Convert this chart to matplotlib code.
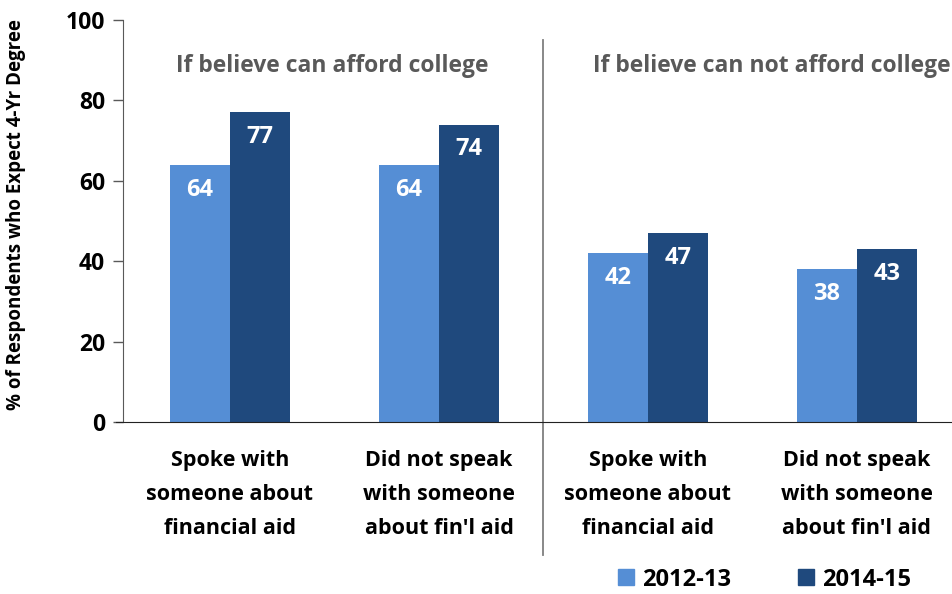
import matplotlib.pyplot as plt
from matplotlib.lines import Line2D
import numpy as np

plt.rcParams['font.family'] = ['Open Sans', 'DejaVu Sans']
plt.rcParams['font.weight'] = 'bold'

categories = ['Spoke with\nsomeone about\nfinancial aid',
              'Did not speak\nwith someone\nabout fin\'l aid',
              'Spoke with\nsomeone about\nfinancial aid',
              'Did not speak\nwith someone\nabout fin\'l aid']
years = ['2012-13', '2014-15']
vals_2012 = [64, 64, 42, 38]
vals_2014 = [77, 74, 47, 43]
panel_titles = ['If believe can afford college', 'If believe can not afford college']

light = '#558ED5'
dark = '#1F497D'

fig = plt.figure(figsize=(9.52, 5.94), dpi=100)
ax = fig.add_axes([0.1292, 0.2896, 0.8708, 0.6767])

x = np.arange(len(categories))
w = 0.287
b1 = ax.bar(x - w / 2, vals_2012, w, color=light, label=years[0])
b2 = ax.bar(x + w / 2, vals_2014, w, color=dark, label=years[1])

for bars, vals in ((b1, vals_2012), (b2, vals_2014)):
    for rect, v in zip(bars, vals):
        ax.text(rect.get_x() + rect.get_width() / 2, v - 6.2, str(v),
                ha='center', va='center', color='white',
                fontsize=17, fontweight='bold')

ax.set_xlim(-0.512, 3.455)
ax.set_ylim(0, 100)
ax.set_yticks([0, 20, 40, 60, 80, 100])
ax.tick_params(axis='y', labelsize=16.5, length=7, width=1, color='#595959', pad=6)
ax.set_xticks(x)
ax.set_xticklabels(categories, fontsize=15.5, linespacing=1.82)
ax.tick_params(axis='x', length=0, pad=20)

ax.spines['top'].set_visible(False)
ax.spines['right'].set_visible(False)
ax.spines['left'].set_color('#595959')
ax.spines['bottom'].set_color('#222222')
ax.spines['bottom'].set_bounds(-0.545, 3.455)

ax.set_ylabel('% of Respondents who Expect 4-Yr Degree', fontsize=13.5,
              fontweight='bold')
ax.yaxis.set_label_coords(-0.117, 0.515)

# panel divider
ax.add_line(Line2D([1.5, 1.5], [95, -33], color='#7f7f7f', lw=1.3, clip_on=False))

ax.text(0.49, 88.5, panel_titles[0], ha='center', va='center',
        color='#595959', fontsize=16.5, fontweight='bold')
ax.text(2.595, 88.5, panel_titles[1], ha='center', va='center',
        color='#595959', fontsize=16.5, fontweight='bold', clip_on=False)

handles = [Line2D([], [], marker='s', ls='', color=light, markersize=12),
           Line2D([], [], marker='s', ls='', color=dark, markersize=12)]
fig.legend(handles, years, loc='center', bbox_to_anchor=(0.801, 0.024), ncol=2,
           frameon=False, prop={'size': 17, 'weight': 'bold'},
           handletextpad=0.15, columnspacing=2.7, handlelength=1.0)

fig.savefig('out.png', dpi=100)
